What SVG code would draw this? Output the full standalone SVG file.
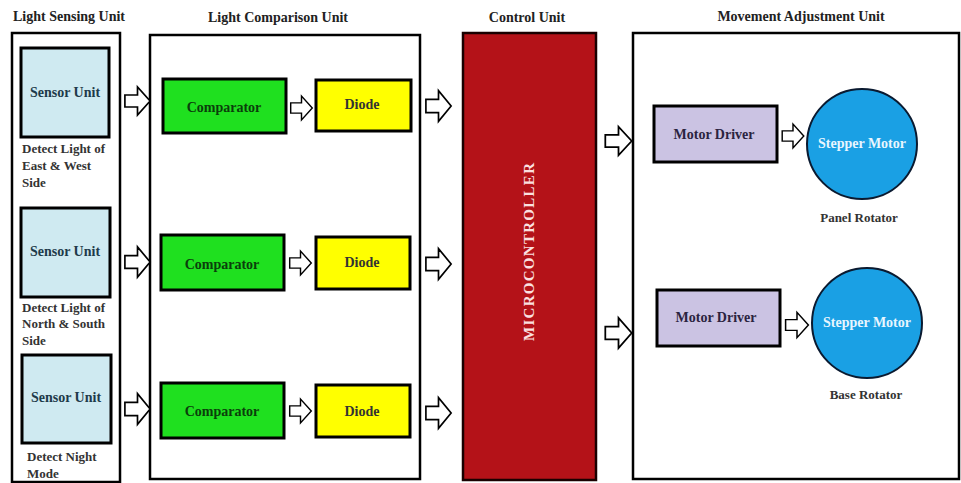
<svg xmlns="http://www.w3.org/2000/svg" xmlns:xlink="http://www.w3.org/1999/xlink" width="961" height="483" viewBox="0 0 961 483">
<style>
text{font-family:"Liberation Serif","Times New Roman",serif;font-weight:bold;}
.title{font-size:14px;fill:#222;text-anchor:middle;}
.cont{fill:#fff;stroke:#000;stroke-width:2.5;}
.node{stroke:#000;stroke-width:3;}
.lbl{font-size:14px;text-anchor:middle;}
.desc{font-size:13px;fill:#333;}
.sensor{fill:#cfeaf1;}
.comp{fill:#1fe01f;}
.diode{fill:#ffff00;}
.mcu{fill:#b41218;stroke:#1a0000;stroke-width:2.5;}
.driver{fill:#cbc3e3;}
.motor{fill:#1aa0e4;stroke:#0a1a30;stroke-width:2;}
.arr{fill:#fff;stroke:#000;stroke-width:1.6;stroke-linejoin:miter;}
</style>
<defs>
<path id="arrow" d="M-12,-6 L0,-6 L0,-14 L12,0 L0,14 L0,6 L-12,6 Z"/>
</defs>
<rect width="961" height="483" fill="#fff"/>

<g id="titles">
<text class="title" x="69" y="21">Light Sensing Unit</text>
<text class="title" x="278" y="22">Light Comparison Unit</text>
<text class="title" x="527" y="22">Control Unit</text>
<text class="title" x="801" y="21">Movement Adjustment Unit</text>
</g>

<g id="light-sensing-unit"><rect class="cont" x="12" y="33" width="108" height="449"/></g>
<g id="light-comparison-unit"><rect class="cont" x="150" y="35" width="270" height="444"/></g>
<g id="movement-adjustment-unit"><rect class="cont" x="633" y="33" width="326" height="446"/></g>

<g id="sensor1">
<rect class="node sensor" x="21" y="48" width="88" height="89"/>
<text class="lbl" x="65" y="97" fill="#1e3a4a">Sensor Unit</text>
<text class="desc" x="22" y="153">Detect Light of</text>
<text class="desc" x="22" y="170">East &amp; West</text>
<text class="desc" x="22" y="187">Side</text>
</g>
<g id="sensor2">
<rect class="node sensor" x="21" y="208" width="89" height="89"/>
<text class="lbl" x="65" y="256" fill="#1e3a4a">Sensor Unit</text>
<text class="desc" x="22" y="312">Detect Light of</text>
<text class="desc" x="22" y="328">North &amp; South</text>
<text class="desc" x="22" y="345">Side</text>
</g>
<g id="sensor3">
<rect class="node sensor" x="22" y="355" width="89" height="88"/>
<text class="lbl" x="66" y="402" fill="#1e3a4a">Sensor Unit</text>
<text class="desc" x="27" y="461">Detect Night</text>
<text class="desc" x="27" y="478">Mode</text>
</g>

<g id="comparator1"><rect class="node comp" x="163" y="79" width="123" height="54"/><text class="lbl" x="224" y="112" fill="#0b3d0b">Comparator</text></g>
<g id="comparator2"><rect class="node comp" x="161" y="235" width="123" height="55"/><text class="lbl" x="222" y="269" fill="#0b3d0b">Comparator</text></g>
<g id="comparator3"><rect class="node comp" x="161" y="383" width="123" height="55"/><text class="lbl" x="222" y="416" fill="#0b3d0b">Comparator</text></g>

<g id="diode1"><rect class="node diode" x="316" y="80" width="95" height="51"/><text class="lbl" x="362" y="109" fill="#333">Diode</text></g>
<g id="diode2"><rect class="node diode" x="316" y="237" width="94" height="52"/><text class="lbl" x="362" y="267" fill="#333">Diode</text></g>
<g id="diode3"><rect class="node diode" x="316" y="385" width="94" height="52"/><text class="lbl" x="362" y="416" fill="#333">Diode</text></g>

<g id="microcontroller">
<rect class="mcu" x="463" y="33" width="133" height="447"/>
<text x="534" y="252" transform="rotate(-90 534 252)" font-size="15" fill="#fbe0e0" text-anchor="middle" textLength="178" lengthAdjust="spacing">MICROCONTROLLER</text>
</g>

<g id="motor-driver1"><rect class="node driver" x="654" y="106" width="123" height="56"/><text class="lbl" x="714" y="139" fill="#2b2440">Motor Driver</text></g>
<g id="motor-driver2"><rect class="node driver" x="657" y="290" width="123" height="56"/><text class="lbl" x="716" y="322" fill="#2b2440">Motor Driver</text></g>

<g id="stepper-motor1">
<circle class="motor" cx="862" cy="144" r="55"/>
<text class="lbl" x="862" y="148" fill="#e8f6ff">Stepper Motor</text>
<text class="desc" x="859" y="222" text-anchor="middle">Panel Rotator</text>
</g>
<g id="stepper-motor2">
<circle class="motor" cx="867" cy="323" r="55"/>
<text class="lbl" x="867" y="327" fill="#e8f6ff">Stepper Motor</text>
<text class="desc" x="866" y="399" text-anchor="middle">Base Rotator</text>
</g>

<g id="connectors">
<use xlink:href="#arrow" class="arr" transform="translate(137.5 101) scale(1.05 1)"/>
<use xlink:href="#arrow" class="arr" transform="translate(137.5 262) scale(1.05 1.08)"/>
<use xlink:href="#arrow" class="arr" transform="translate(137.5 409) scale(1.05 1.1)"/>
<use xlink:href="#arrow" class="arr" transform="translate(301.5 108) scale(0.9 0.85)"/>
<use xlink:href="#arrow" class="arr" transform="translate(300.5 263) scale(0.9 0.85)"/>
<use xlink:href="#arrow" class="arr" transform="translate(300.5 411) scale(0.9 0.85)"/>
<use xlink:href="#arrow" class="arr" transform="translate(438.5 106) scale(1.05 1.1)"/>
<use xlink:href="#arrow" class="arr" transform="translate(438.5 264) scale(1.05 1.1)"/>
<use xlink:href="#arrow" class="arr" transform="translate(438.5 413) scale(1.05 1.1)"/>
<use xlink:href="#arrow" class="arr" transform="translate(618.5 141) scale(1.1 1.02)"/>
<use xlink:href="#arrow" class="arr" transform="translate(618.5 333) scale(1.1 1.08)"/>
<use xlink:href="#arrow" class="arr" transform="translate(793 136) scale(0.9 0.85)"/>
<use xlink:href="#arrow" class="arr" transform="translate(797 325) scale(0.95 0.9)"/>
</g>
</svg>
